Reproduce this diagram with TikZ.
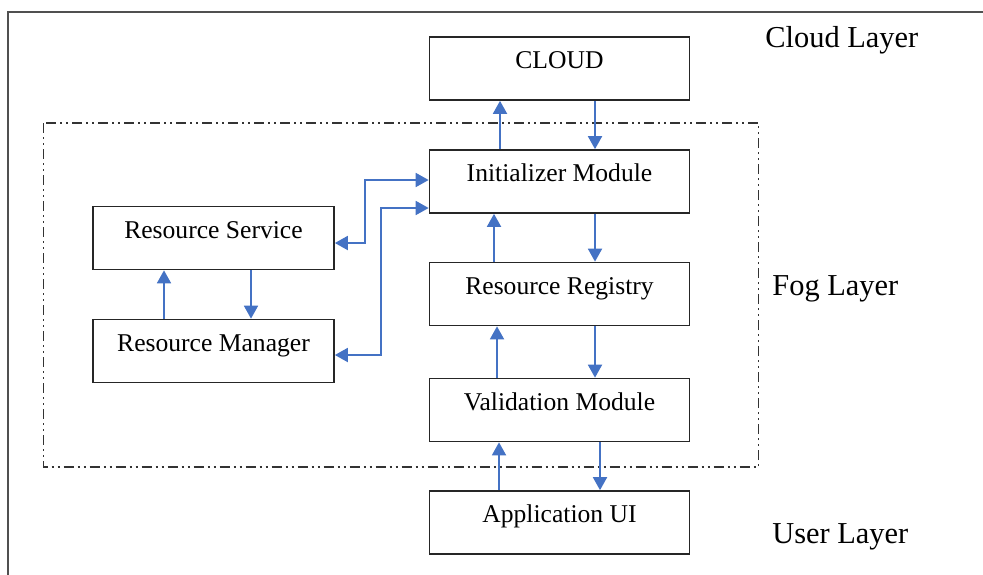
\documentclass[tikz,border=0pt]{standalone}
\usepackage{fontspec}
\setmainfont{Liberation Serif}
\usetikzlibrary{arrows.meta}
\definecolor{flowblue}{HTML}{4472C4}
\definecolor{framegray}{HTML}{505050}
\tikzset{
  module/.style={draw=black!85, line width=0.85pt, minimum width=130pt, minimum height=31.5pt, inner sep=0pt},
  sidemodule/.style={module, minimum width=120.5pt},
  boxtext/.style={font=\fontsize{12.8pt}{14pt}\selectfont, anchor=base, inner sep=0pt},
  layertext/.style={font=\fontsize{15.2pt}{17pt}\selectfont, anchor=base west, inner sep=0pt},
  flow/.style={draw=flowblue, line width=0.9pt, -{Triangle[length=6.5pt,width=7pt]}},
  bothflow/.style={draw=flowblue, line width=0.9pt, {Triangle[length=6.5pt,width=7pt]}-{Triangle[length=6.5pt,width=7pt]}},
  foglayer/.style={draw=black!80, line width=0.75pt, dash pattern=on 5pt off 2pt on 1pt off 2pt on 1pt off 2pt}
}
\begin{document}
\begin{tikzpicture}[x=0.5pt,y=-0.5pt]
  \useasboundingbox (0,0) rectangle (983,574);
  \fill[white] (0,0) rectangle (983,574);

  % outer frame (continues past the right and bottom edges)
  \draw[framegray, line width=1pt] (8,590) -- (8,12) -- (1000,12);

  % fog layer boundary
  \draw[foglayer] (43.5,123) rectangle (758.5,467);

  % main column
  \node[module] (cloud) at (559.5,68.5) {};
  \node[module] (init)  at (559.5,181.5) {};
  \node[module] (reg)   at (559.5,294) {};
  \node[module] (valid) at (559.5,410) {};
  \node[module] (app)   at (559.5,522.5) {};

  % side column
  \node[sidemodule] (service) at (213.5,238) {};
  \node[sidemodule] (manager) at (213.5,351) {};

  % box captions
  \node[boxtext] (cloudtxt)   at (cloud.center)   {CLOUD};
  \node[boxtext] (inittxt)    at (init.center)    {Initializer Module};
  \node[boxtext] (regtxt)     at (reg.center)     {Resource Registry};
  \node[boxtext] (validtxt)   at (valid.center)   {Validation Module};
  \node[boxtext] (apptxt)     at (app.center)     {Application UI};
  \node[boxtext] (servicetxt) at (service.center) {Resource Service};
  \node[boxtext] (managertxt) at (manager.center) {Resource Manager};

  % layer labels
  \node[layertext] (cloudlayer) at (765,47)  {Cloud Layer};
  \node[layertext] (foglayer)   at (772,295) {Fog Layer};
  \node[layertext] (userlayer)  at (772,543) {User Layer};

  % vertical flows in the main column
  \draw[flow] (500,0 |- init.north) -- (500,0 |- cloud.south);
  \draw[flow] (595,0 |- cloud.south) -- (595,0 |- init.north);
  \draw[flow] (494,0 |- reg.north) -- (494,0 |- init.south);
  \draw[flow] (595,0 |- init.south) -- (595,0 |- reg.north);
  \draw[flow] (497,0 |- valid.north) -- (497,0 |- reg.south);
  \draw[flow] (595,0 |- reg.south) -- (595,0 |- valid.north);
  \draw[flow] (499,0 |- app.north) -- (499,0 |- valid.south);
  \draw[flow] (600,0 |- valid.south) -- (600,0 |- app.north);

  % vertical flows in the side column
  \draw[flow] (164,0 |- manager.north) -- (164,0 |- service.south);
  \draw[flow] (251,0 |- service.south) -- (251,0 |- manager.north);

  % links between the side modules and the initializer
  \draw[bothflow] (service.east |- 0,243) -- (365,243) -- (365,180) -- (init.west |- 0,180);
  \draw[bothflow] (manager.east |- 0,355) -- (381,355) -- (381,208) -- (init.west |- 0,208);
\end{tikzpicture}
\end{document}
